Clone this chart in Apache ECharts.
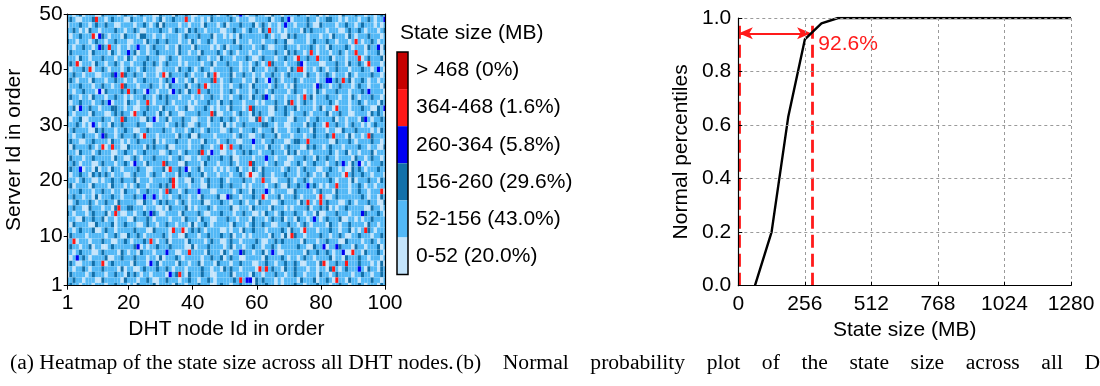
<!DOCTYPE html>
<html><head><meta charset="utf-8">
<script src="https://cdn.jsdelivr.net/npm/echarts@6/dist/echarts.min.js"></script>
<style>html,body{margin:0;padding:0;background:#fff}#c{width:1100px;height:386px}</style>
</head><body><div id="c"></div>
<script>
// ---------- Heatmap data ----------
const nodeTicks = [1, 20, 40, 60, 80, 100];
const serverTicks = [1, 10, 20, 30, 40, 50];
const binLabels = ['0-52 (20.0%)', '52-156 (43.0%)', '156-260 (29.6%)', '260-364 (5.8%)', '364-468 (1.6%)', '> 468 (0%)'];
const binColors = ['#c4e4fb', '#52b8f6', '#1270aa', '#0000f2', '#ff1717', '#c60000'];
// state-size class per cell (0..2), one string per server, server 50 first
const stateRowsTopDown = [
"1101201110 0211110121 1012111002 1110211210 0111121011 2101110112 1100211011 1121101120 1011102111 2110110121",
"1210011121 1101211100 2111011012 0112111210 1101021111 1210111001 1112011210 0111121101 1221101011 1011210111",
"0111211012 1121100111 1011210120 2111101101 1102111012 0111211120 1210110111 1011121002 1111011211 0121110101",
"1121010211 0111121101 1210011112 1101211021 2110111100 1121101211 0211110101 1110212111 1011100121 1210111012",
"1011211100 1210111021 1102211011 0111101211 1211120110 1010211111 1121011002 1211101110 1102111021 0111211101",
"2110111012 1101121110 0111021121 1211101102 1011210111 1120111011 1011121120 0111101211 1211011101 1101121011",
"1101121101 0211110110 1121101211 1011021110 2111101012 0111211101 1210011121 1101112101 1021111210 1110211102",
"0211111021 1110210111 1201101121 1111021101 1021111210 1210111011 0111121102 1211011101 1101121011 2110111201",
"1110211011 1211101102 1011121110 0121101111 1211011021 1101112100 1211101121 1011121101 1120111011 1101211120",
"1211011102 1101121011 0111211210 1211101011 1101120111 2111011012 1011211101 1121011110 0111211021 1210111101",
"1011121101 1210111012 1101211100 1111021121 0121101111 1211011021 1101121110 2111011012 1011211101 1121101210",
"1121101110 0111211021 1211011101 1021111210 1110211011 1201121101 1011211012 1111021101 1210111021 0111121101",
"1210111021 1101121101 1011211110 1211011012 0111121101 1211101102 1101121011 1210111101 1011211120 1121011011",
"0111211101 1211011021 1101112110 1021111201 1211011101 1011211021 1110121101 0211111012 1101121110 1211011102",
"1101121110 1021111210 1211011101 1101121021 1011211101 1210111012 1101211110 1211011021 0111211101 1121011110",
"1211011021 1101121101 0111211012 1211101110 1101121101 1011211021 1211011101 1101112011 1211101102 1011121101",
"1011211101 1211011102 1101121011 1210111101 0111211021 1211101110 1011121102 1101211011 1121011101 1210111021",
"1120011211 0111221101 1001121110 2111011200 1112101011 0211101121 1110021121 1201111012 0110211101 1121100211",
"2101111021 1100121211 0111211102 1021100111 1211112001 1101211021 2110011121 0111210111 1201121100 1111021210",
"1011200111 1211011021 1110021101 1201112110 0111021121 1210111002 1101211110 0211101121 1112011011 1021101121",
"1112101021 0110211211 1121100111 1011212100 1211011102 0101121111 1221101100 1111021211 0111211012 1101012111",
"0121111002 1211101121 1001121111 2110111012 1101211100 1211011121 0111201110 1121110211 1011002111 2111101021",
"1101121110 1021101211 1210011101 1111021120 0211110111 1101211001 1211120111 0111011211 1210111020 1101121111",
"1211001121 1110211010 1121111201 0111211101 1102111011 2110011121 1011211100 1221101111 1100211121 0111121101",
"1021111210 1101211002 1111021211 1200111101 1121101120 1011211101 1102111012 1110021211 0121110111 1211011002",
"1110211101 2111001121 1011211110 0121101211 1211011100 1101121211 0111211102 1201110111 1121011201 1011120111",
"0211101121 1111021100 1210111211 1101121001 1011211121 1200111101 1121101110 0111211021 1211011110 2110121101",
"1121011100 1211101121 0111021111 1211100211 1102111011 1210111021 1101121100 1121011211 1011211102 1101011121",
"1211101102 0110211011 1121100111 2011121201 1201110101 0112011021 0211111012 1101211100 1121101002 1210111211",
"1011211021 2121011100 1211101211 0111021121 1120111011 1011210100 1211011121 1101121011 0211110112 1121101110",
"1110121100 1011211211 1201110111 1121011002 1101211121 0111121101 1211001112 1011210111 1121011102 0111211021",
"1201111021 1110211101 0121101112 1211011101 1100211121 1211101011 1101121002 1121111210 1011211101 1210110111",
"0111211101 1211011021 1101121110 1021101211 1211100111 1101211021 1121011110 0211111012 1110211101 1211011120",
"1121101102 0111211011 1211011210 1101121101 1021111200 1211011121 1101112011 1210111102 1001211111 1121011021",
"0012111210 1121102111 1100211012 1211012101 1120011121 1011210110 2111001211 1102111012 1211100121 0111211002",
"1121100211 1011021112 2111011100 1021111201 0111210111 1200111021 1110211101 0111120112 1201011211 1110021101",
"2101110121 1120111001 1011211210 0111102111 1210011121 1101121100 1021101211 1211011020 0111211101 1102111210",
"1110021121 1201101110 0211121011 1101110211 1021100111 2110111021 1101211201 1021101110 1211120011 0101121111",
"1021111002 1111201121 1100121101 1211011102 0112101111 1021110121 1211001112 1101210111 1021101121 1110211011",
"1101211120 0121101111 1211100211 1102111012 1210111100 1011021121 1101111210 2110011101 1121101120 1011210111",
"0211110111 1101121002 1121011111 2101100211 1011211121 1201101011 1110211020 1211011112 1101121001 1211101121",
"1120111011 1211001121 0111211101 1201111021 1110121100 1211011112 1001121211 1110211101 1211100211 1101121011",
"1211011201 1001211111 1210101121 1121111002 0111211110 1201101121 1011210111 1121100211 1011121110 2110111201",
"1101211100 1211110210 1102111011 1211001121 1110211102 1011121101 1201110011 1111021121 1210111001 1102111210",
"1011121011 1120011211 1211101102 0111210111 1101121120 1211001111 1021111210 1101211011 1120110211 1211011101",
"1210011121 1101211111 0211101120 1111021101 1201110211 1011211100 1121101121 1210011102 1011211111 1211101020",
"1101121011 1211110201 1001211121 1210111011 1121101102 1211011110 0111211021 1211101101 1021101211 1110211021",
"0211110121 1101121102 1210110111 1011211021 1121100111 1201111021 1011121101 1211011102 1101211110 1121101121",
"1121101110 0211111021 1101121001 1211101121 1011210111 1121011102 1211101011 1102111201 1210111021 1011121101",
"1211011101 1101121110 1021111201 1110211011 1211100121 1011211102 1121101011 1211011121 1101121101 1210111021"
];
// high-state cells: [node, server, class] (3 = 260-364, 4 = 364-468)
const highCells = [
[10,49,4],[38,49,4],[9,46,4],[14,44,4],[64,47,4],[91,45,4],[91,43,4],[77,43,4],[73,42,4],[79,42,4],[92,42,4],
[4,41,4],[64,41,4],[8,40,4],[73,40,4],[74,40,4],[95,41,4],[31,39,4],[18,39,4],[47,39,4],[47,38,4],[87,38,4],
[18,37,4],[44,37,4],[20,36,4],[42,36,4],[75,35,4],[26,34,4],[71,34,4],[58,33,4],[85,33,4],[22,32,4],[46,32,4],
[18,31,4],[61,31,4],[82,30,4],[25,28,4],[84,28,4],[95,28,4],[76,27,4],[12,26,4],[15,26,4],[49,26,4],[52,26,4],
[43,25,4],[31,23,4],[58,23,4],[33,22,4],[58,21,4],[88,21,4],[34,20,4],[34,19,4],[62,20,4],[85,19,4],[32,18,4],
[99,18,4],[62,17,4],[80,17,4],[80,16,4],[76,16,4],[17,15,4],[16,14,4],[34,11,4],[37,11,4],[75,11,4],[94,11,4],
[71,10,4],[27,9,4],[3,9,4],[39,7,4],[90,7,4],[12,5,4],[81,5,4],[88,5,4],[61,4,4],[63,4,4],[84,4,4],[36,3,4],
[55,2,4],[85,2,4],
[55,50,3],[69,48,3],[70,49,3],[100,49,3],[11,46,3],[11,44,3],[23,44,3],[20,43,3],[98,44,3],[74,41,3],[98,40,3],
[16,39,3],[34,38,3],[64,38,3],[82,38,3],[83,38,3],[79,37,3],[11,36,3],[26,36,3],[34,36,3],[95,36,3],[63,35,3],
[14,34,3],[5,33,3],[100,33,3],[28,31,3],[94,31,3],[9,30,3],[12,28,3],[59,27,3],[46,25,3],[63,24,3],[22,23,3],
[87,23,3],[92,23,3],[5,22,3],[38,22,3],[76,19,3],[63,18,3],[42,18,3],[25,17,3],[51,17,3],[28,17,3],[27,14,3],
[93,14,3],[78,13,3],[23,8,3],[81,8,3],[85,8,3],[4,6,3],[32,7,3],[55,7,3],[65,7,3],[87,7,3],[27,5,3],[92,4,3],
[33,3,3],[57,2,3],[58,2,3]
];

// ---------- Percentile plot data ----------
const sizeTicks = [0, 256, 512, 768, 1024, 1280];
const pctTicks = [0, 0.2, 0.4, 0.6, 0.8, 1.0];
const cdfSize = [64, 128, 192, 256, 288, 320, 384, 1280];
const cdfPct  = [0, 0.2, 0.63, 0.92, 0.95, 0.98, 1.0, 1.0];
const markLeftSize = 4;
const markSize = 286;
const markTopPct = 0.985;
const arrowPct = 0.943;
const markLabel = '92.6%';
const markLabelPos = [306, 0.901];

const captionA = '(a) Heatmap of the state size across all DHT nodes.';
// first (justified) line of caption (b), clipped by the page edge
const captionBWords = ['(b)', 'Normal', 'probability', 'plot', 'of', 'the', 'state', 'size', 'across', 'all', 'DHT', 'nodes.'];

// ---------- build ----------
const grid = stateRowsTopDown.map(s => s.replace(/ /g, '').split('').map(Number));
highCells.forEach(([n, s, c]) => { grid[50 - s][n - 1] = c; });
const heatData = [];
grid.forEach((row, i) => row.forEach((v, j) => heatData.push([j + 1, 50 - i, v])));

const FONT = 'Liberation Sans';
const chart = echarts.init(document.getElementById('c'), null, {renderer: 'canvas'});

function axisCommon() {
  return {
    axisLine: {show: true, lineStyle: {color: '#000', width: 1.2}},
    axisLabel: {color: '#000', fontSize: 21, fontFamily: FONT},
    nameTextStyle: {color: '#000', fontSize: 21, fontFamily: FONT},
    splitLine: {show: false},
    z: 10
  };
}

const option = {
  animation: false,
  backgroundColor: '#fff',
  grid: [
    {left: 67.7, top: 14, width: 317.3, height: 271.7},
    {left: 738.3, top: 18, width: 332.7, height: 267.7}
  ],
  xAxis: [
    Object.assign(axisCommon(), {
      type: 'value', gridIndex: 0, min: 1, max: 100,
      axisLabel: {color: '#000', fontSize: 21, fontFamily: FONT, margin: 7, customValues: nodeTicks, formatter: v => String(v)},
      axisTick: {show: true, length: 4, lineStyle: {color: '#000'}, customValues: nodeTicks},
      name: 'DHT node Id in order', nameLocation: 'middle', nameGap: 31
    }),
    Object.assign(axisCommon(), {
      type: 'value', gridIndex: 1, min: 0, max: 1280, interval: 256,
      axisLabel: {color: '#000', fontSize: 21, fontFamily: FONT, margin: 8, formatter: v => String(v)},
      axisTick: {show: true, inside: true, length: 4, lineStyle: {color: '#000'}},
      splitLine: {show: true, lineStyle: {color: '#9a9a9a', width: 1, type: [3, 3]}},
      name: 'State size (MB)', nameLocation: 'middle', nameGap: 33
    }),
    Object.assign(axisCommon(), {
      type: 'value', gridIndex: 0, min: 1, max: 100, position: 'top',
      axisLabel: {show: false}, axisTick: {show: false}
    })
  ],
  yAxis: [
    Object.assign(axisCommon(), {
      type: 'value', gridIndex: 0, min: 1, max: 50,
      axisLabel: {color: '#000', fontSize: 21, fontFamily: FONT, margin: 5, customValues: serverTicks, formatter: v => String(v)},
      axisTick: {show: true, length: 4, lineStyle: {color: '#000'}, customValues: serverTicks},
      name: 'Server Id in order', nameLocation: 'middle', nameGap: 43
    }),
    Object.assign(axisCommon(), {
      type: 'value', gridIndex: 1, min: 0, max: 1, interval: 0.2,
      axisLabel: {color: '#000', fontSize: 21, fontFamily: FONT, margin: 7, formatter: v => v.toFixed(1)},
      axisTick: {show: true, inside: true, length: 4, lineStyle: {color: '#000'}},
      splitLine: {show: true, lineStyle: {color: '#9a9a9a', width: 1, type: [3, 3]}},
      name: 'Normal percentiles', nameLocation: 'middle', nameGap: 47
    }),
    Object.assign(axisCommon(), {
      type: 'value', gridIndex: 0, min: 1, max: 50, position: 'right',
      axisLabel: {show: false}, axisTick: {show: false}
    })
  ],
  visualMap: {
    type: 'piecewise', seriesIndex: 0, dimension: 2,
    pieces: binLabels.map((l, i) => ({value: i, label: l, color: binColors[i]})),
    orient: 'vertical', left: 397, top: 52, padding: 0,
    itemWidth: 11, itemHeight: 37.1, itemGap: 0, textGap: 8, itemSymbol: 'rect',
    selectedMode: false, hoverLink: false,
    textStyle: {color: '#000', fontSize: 21, fontFamily: FONT}
  },
  graphic: [
    {type: 'rect', z: 100, shape: {x: 397, y: 52, width: 11, height: 222.6},
     style: {fill: 'none', stroke: '#000', lineWidth: 1.5}},
    {type: 'text', z: 100, x: 400, y: 33,
     style: {text: 'State size (MB)', font: '21px "Liberation Sans"', fill: '#000', verticalAlign: 'middle'}},
    {type: 'text', z: 100, x: 10, y: 363,
     style: {text: captionA, font: '21.6px "Liberation Serif"', fill: '#000', verticalAlign: 'middle'}},
    {type: 'text', z: 100, x: 456, y: 363,
     style: {text: captionBWords.join('    '), font: '21.6px "Liberation Serif"', fill: '#000', verticalAlign: 'middle'}}
  ],
  series: [
    {
      type: 'custom', xAxisIndex: 0, yAxisIndex: 0, data: heatData, encode: {x: 0, y: 1}, z: 2,
      renderItem(params, api) {
        const x = api.value(0), y = api.value(1);
        const p0 = api.coord([x - 0.5, y + 0.5]);
        const p1 = api.coord([x + 0.5, y - 0.5]);
        const cs = params.coordSys;
        const r = echarts.graphic.clipRectByRect(
          {x: p0[0], y: p0[1], width: p1[0] - p0[0], height: p1[1] - p0[1]},
          {x: cs.x, y: cs.y, width: cs.width, height: cs.height});
        if (!r) return null;
        return {type: 'rect', shape: r, style: {fill: api.visual('color')}};
      }
    },
    {
      type: 'line', xAxisIndex: 1, yAxisIndex: 1, z: 5,
      data: cdfSize.map((s, i) => [s, cdfPct[i]]),
      symbol: 'none', lineStyle: {color: '#000', width: 2.4},
      markLine: {
        silent: true, symbol: ['none', 'none'], animation: false,
        label: {show: false},
        lineStyle: {color: '#ff1a1a', width: 2.8, type: [13, 6]},
        data: [
          [{coord: [markLeftSize, 0]}, {coord: [markLeftSize, markTopPct]}],
          [{coord: [markSize, 0]}, {coord: [markSize, markTopPct]}]
        ]
      }
    },
    {
      type: 'line', xAxisIndex: 1, yAxisIndex: 1, z: 6, data: [],
      markLine: {
        silent: true, symbol: ['arrow', 'arrow'], symbolSize: [9, 14], animation: false,
        label: {show: false},
        lineStyle: {color: '#ff1a1a', width: 2, type: 'solid'},
        data: [[{coord: [markLeftSize - 2, arrowPct]}, {coord: [markSize - 6, arrowPct]}]]
      },
      markPoint: {
        silent: true, symbol: 'circle', symbolSize: 1, itemStyle: {color: 'rgba(0,0,0,0)'},
        label: {show: true, position: 'right', distance: 0, color: '#ff1a1a', fontSize: 21, fontFamily: FONT, formatter: markLabel},
        data: [{coord: markLabelPos}]
      }
    }
  ]
};
chart.setOption(option);
</script>
</body></html>
